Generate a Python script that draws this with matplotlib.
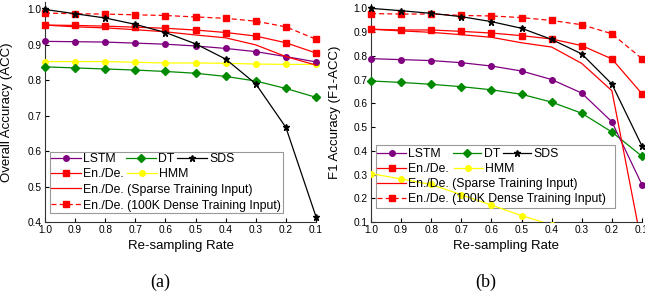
import matplotlib
matplotlib.use("Agg")
import matplotlib.pyplot as plt
from matplotlib.patches import Rectangle
from matplotlib.lines import Line2D
from matplotlib.legend import Legend

plt.rcParams["font.family"] = ["Liberation Sans", "DejaVu Sans"]

W, H = 645, 297

rates = [1.0, 0.9, 0.8, 0.7, 0.6, 0.5, 0.4, 0.3, 0.2, 0.1]

# (a) overall accuracy
acc_lstm = [0.910, 0.909, 0.908, 0.905, 0.902, 0.897, 0.890, 0.881, 0.867, 0.852]
acc_dt = [0.838, 0.835, 0.832, 0.829, 0.825, 0.820, 0.811, 0.798, 0.777, 0.752]
acc_sds = [1.000, 0.988, 0.976, 0.958, 0.935, 0.903, 0.860, 0.790, 0.667, 0.415]
acc_encdec = [0.956, 0.955, 0.953, 0.950, 0.947, 0.942, 0.935, 0.925, 0.906, 0.877]
acc_hmm = [0.853, 0.853, 0.853, 0.851, 0.849, 0.849, 0.848, 0.846, 0.845, 0.845]
acc_sparse = [0.956, 0.951, 0.948, 0.943, 0.937, 0.928, 0.920, 0.900, 0.867, 0.843]
acc_dense = [0.990, 0.988, 0.987, 0.985, 0.983, 0.979, 0.975, 0.967, 0.951, 0.916]

# (b) F1 accuracy
f1_lstm = [0.788, 0.784, 0.780, 0.771, 0.757, 0.736, 0.700, 0.643, 0.522, 0.257]
f1_dt = [0.694, 0.688, 0.680, 0.670, 0.657, 0.638, 0.605, 0.558, 0.479, 0.377]
f1_sds = [1.000, 0.990, 0.979, 0.965, 0.944, 0.916, 0.869, 0.808, 0.681, 0.420]
f1_encdec = [0.912, 0.909, 0.909, 0.903, 0.896, 0.885, 0.871, 0.843, 0.787, 0.640]
f1_hmm = [0.304, 0.281, 0.258, 0.215, 0.171, 0.127, 0.088, 0.060, 0.040, 0.030]
f1_sparse = [0.912, 0.905, 0.899, 0.889, 0.878, 0.855, 0.837, 0.768, 0.653, 0.000]
f1_dense = [0.978, 0.976, 0.976, 0.970, 0.968, 0.961, 0.949, 0.931, 0.893, 0.788]

PURPLE = "#800080"
GREEN = "#008a00"
RED = "#ff0000"
YELLOW = "#ffff00"

styles = {
    "lstm": dict(color=PURPLE, marker="o", ms=4.0, label="LSTM"),
    "dt": dict(color=GREEN, marker="D", ms=3.6, label="DT"),
    "sds": dict(color="black", marker="*", ms=4.6, label="SDS"),
    "encdec": dict(color=RED, marker="s", ms=3.8, label="En./De."),
    "hmm": dict(color=YELLOW, marker="o", ms=4.0, label="HMM"),
    "sparse": dict(color=RED, label="En./De. (Sparse Training Input)"),
    "dense": dict(color=RED, marker="s", ms=3.8, ls=(0, (4, 2.5)),
                  label="En./De. (100K Dense Training Input)"),
}


def draw_panel(ax, series, ylim, yticks, ylabel, clip_keys):
    for key, vals in series.items():
        ax.plot(rates, vals, lw=0.9, zorder=3, clip_on=(key in clip_keys),
                **styles[key])
    ax.set_xlim(1.0, 0.1)
    ax.set_ylim(*ylim)
    ax.set_xticks(rates)
    ax.set_xticklabels([f"{r:.1f}" for r in rates])
    ax.set_yticks(yticks)
    ax.set_yticklabels([f"{t:.1f}" for t in yticks])
    ax.tick_params(direction="in", length=3, width=0.8, labelsize=7.3, pad=2.5)
    for s in ("top", "right"):
        ax.spines[s].set_visible(False)
    for s in ("left", "bottom"):
        ax.spines[s].set_linewidth(0.8)
        ax.spines[s].set_color("#333333")
    ax.set_xlabel("Re-sampling Rate", fontsize=9.5)
    ax.set_ylabel(ylabel, fontsize=9.5)


def px_axes(ax, x, y):
    """figure pixel (from top-left) -> axes fraction"""
    fx, fy = x / W, 1 - y / H
    return ax.transAxes.inverted().transform(fig.transFigure.transform((fx, fy)))


def draw_legend(ax, box, entries, hlen):
    (x0, y0), (x1, y1) = px_axes(ax, box[0], box[3]), px_axes(ax, box[2], box[1])
    ax.add_patch(Rectangle((x0, y0), x1 - x0, y1 - y0, transform=ax.transAxes,
                           facecolor="white", edgecolor="#999999", lw=0.8,
                           zorder=2, clip_on=False))
    for key, x, y in entries:
        st = styles[key]
        h = Line2D([], [], lw=0.9, color=st["color"], marker=st.get("marker"),
                   ms=st.get("ms", 4), ls=st.get("ls", "-"))
        leg = Legend(ax, [h], [st["label"]], loc="center left",
                     bbox_to_anchor=(x / W, 1 - y / H),
                     bbox_transform=fig.transFigure, frameon=False,
                     borderpad=0, borderaxespad=0, handlelength=hlen,
                     handletextpad=0.2, fontsize=8.8)
        ax.add_artist(leg)


fig = plt.figure(figsize=(W / 100, H / 100), dpi=100)
ax1 = fig.add_axes([45 / W, 75 / H, 271 / W, 219.6 / H])
ax2 = fig.add_axes([371 / W, 75 / H, 271 / W, 218.4 / H])

draw_panel(ax1, {"hmm": acc_hmm, "dt": acc_dt, "lstm": acc_lstm,
                 "sparse": acc_sparse, "encdec": acc_encdec,
                 "dense": acc_dense, "sds": acc_sds},
           (0.4, 1.02), [0.4, 0.5, 0.6, 0.7, 0.8, 0.9, 1.0],
           "Overall Accuracy (ACC)", ())
draw_panel(ax2, {"hmm": f1_hmm, "dt": f1_dt, "lstm": f1_lstm,
                 "sparse": f1_sparse, "encdec": f1_encdec,
                 "dense": f1_dense, "sds": f1_sds},
           (0.1, 1.02), [0.1, 0.2, 0.3, 0.4, 0.5, 0.6, 0.7, 0.8, 0.9, 1.0],
           "F1 Accuracy (F1-ACC)", ("hmm", "sparse"))

ax1.yaxis.set_label_coords((13 - 45) / 271, 0.5)
ax2.yaxis.set_label_coords((341 - 371) / 271, 0.5)
ax1.xaxis.set_label_coords(0.5, (222 - 240) / 219.6)
ax2.xaxis.set_label_coords(0.5, (222 - 240) / 218.4)

draw_legend(ax1, (50, 152, 283, 212.7),
            [("lstm", 50.7, 159), ("dt", 126, 159), ("sds", 176.7, 159),
             ("encdec", 50.7, 174.3), ("hmm", 126.7, 174.3),
             ("sparse", 50.7, 189.7), ("dense", 50.7, 205.7)], 2.45)
draw_legend(ax2, (376, 145, 615, 207.7),
            [("lstm", 377.3, 154), ("dt", 452.7, 154), ("sds", 502.7, 154),
             ("encdec", 377.3, 169.3), ("hmm", 454, 169.3),
             ("sparse", 377.3, 184), ("dense", 377.3, 199.3)], 2.35)

fig.text(160 / W, 1 - 282.5 / H, "(a)", ha="center", va="center",
         fontsize=13, family="Liberation Serif")
fig.text(486 / W, 1 - 282.5 / H, "(b)", ha="center", va="center",
         fontsize=13, family="Liberation Serif")

fig.savefig("out.png", dpi=100)
